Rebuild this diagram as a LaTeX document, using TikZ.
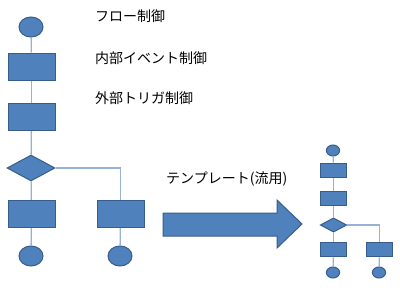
\documentclass[tikz,border=0pt]{standalone}
\usepackage{fontspec}
\setmainfont{Noto Sans CJK JP}
\usetikzlibrary{shapes.geometric}
\definecolor{boxfill}{RGB}{79,129,189}
\definecolor{boxline}{RGB}{56,93,138}
\definecolor{conn}{RGB}{150,178,214}
\tikzset{
  shp/.style={draw=boxline,fill=boxfill,line width=1pt,inner sep=0pt},
  oval/.style={shp,ellipse,minimum width=#1*24pt,minimum height=#1*20pt},
  box/.style={shp,rectangle,minimum width=#1*47pt,minimum height=#1*27pt},
  dia/.style={shp,diamond,minimum width=#1*48pt,minimum height=#1*26pt},
  link/.style={draw=conn,line width=1.3pt},
  lbl/.style={anchor=west,inner sep=0pt,font=\fontsize{14pt}{16pt}\selectfont}
}
\begin{document}
\begin{tikzpicture}[x=1pt,y=-1pt]
\useasboundingbox (0,0) rectangle (400,300);
% left chart
\node[oval=1] (a1) at (31,27) {};
\node[box=1] (a2) at (31.5,66.5) {};
\node[box=1] (a3) at (31.5,117) {};
\node[dia=1] (a4) at (31,168) {};
\node[box=1] (a5) at (31.5,214) {};
\node[box=1] (a6) at (120.5,214) {};
\node[oval=1] (a7) at (31,256) {};
\node[oval=1] (a8) at (120,256) {};
\begin{scope}[on background layer/.style={}]
\draw[link] (a1) -- (a2);
\draw[link] (a2) -- (a3);
\draw[link] (a3) -- (a4);
\draw[link] (a4) -- (a5);
\draw[link] (a5) -- (a7);
\draw[link] (a4.east) -| (a6.north);
\draw[link] (a6) -- (a8);
\end{scope}
% labels
\node[lbl] (t1) at (95,16.5) {フロー制御};
\node[lbl] (t2) at (95,58.5) {内部イベント制御};
\node[lbl] (t3) at (95,98.5) {外部トリガ制御};
\node[lbl] (t4) at (166,178.5) {テンプレート(流用)};
% big arrow
\draw[shp] (163,213) -- (277,213) -- (277,200) -- (302,224) -- (277,248) -- (277,236) -- (163,236) -- cycle;
% right small chart
\node[oval=0.55] (b1) at (333,150.5) {};
\node[box=0.55] (b2) at (333.5,170.5) {};
\node[box=0.55] (b3) at (333.5,198.5) {};
\node[dia=0.55] (b4) at (333.5,225) {};
\node[box=0.55] (b5) at (333.5,249.5) {};
\node[box=0.55] (b6) at (379.5,249.5) {};
\node[oval=0.55] (b7) at (333,272.5) {};
\node[oval=0.55] (b8) at (379,272.5) {};
\draw[link] (b1) -- (b2);
\draw[link] (b2) -- (b3);
\draw[link] (b3) -- (b4);
\draw[link] (b4) -- (b5);
\draw[link] (b5) -- (b7);
\draw[link] (b4.east) -| (b6.north);
\draw[link] (b6) -- (b8);
\end{tikzpicture}
\end{document}
